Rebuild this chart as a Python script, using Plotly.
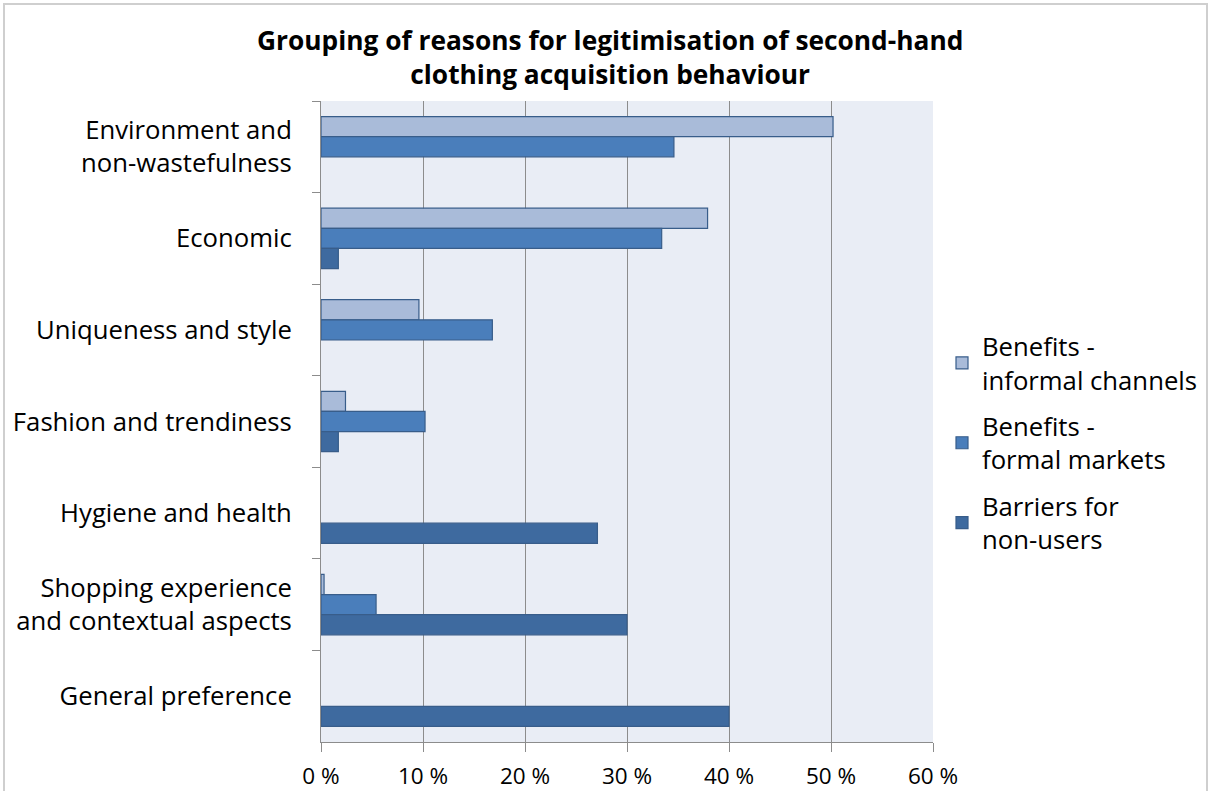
import plotly.graph_objects as go

categories = ["Environment and<br>non-wastefulness", "Economic", "Uniqueness and style",
              "Fashion and trendiness", "Hygiene and health",
              "Shopping experience<br>and contextual aspects", "General preference"]
# None = no bar drawn for that category
informal = [50.2, 37.9, 9.6, 2.4, None, 0.3, None]
formal = [34.6, 33.4, 16.8, 10.2, None, 5.4, None]
barriers = [None, 1.7, None, 1.7, 27.1, 30.0, 40.0]
series_names = ["Benefits -<br>informal channels", "Benefits -<br>formal markets", "Barriers for<br>non-users"]
colors = ["#a9bbd9", "#4a7ebb", "#3e6a9f"]
tick_vals = [0, 10, 20, 30, 40, 50, 60]
tick_text = ["0 %", "10 %", "20 %", "30 %", "40 %", "50 %", "60 %"]
title_text = "<b>Grouping of reasons for legitimisation of second-hand<br>clothing acquisition behaviour</b>"

FONT = "Open Sans"
fig = go.Figure()
for name, vals, col in zip(series_names, [informal, formal, barriers], colors):
    fig.add_trace(go.Bar(
        y=categories, x=vals, name=name, orientation="h",
        marker=dict(color=col, line=dict(color="#385d8a", width=1.2)),
        legendgroup=name,
    ))

W, H = 1210, 791
L, R, T, B = 321, 277, 101, 49
pw, ph = W - L - R, H - T - B

fig.update_layout(
    width=W, height=H,
    margin=dict(l=L, r=R, t=T, b=B, pad=0, autoexpand=False),
    paper_bgcolor="white", plot_bgcolor="#e9edf5",
    barmode="group", bargap=0.34, bargroupgap=0,
    font=dict(family=FONT, size=25.7, color="#000000"),
    legend=dict(x=(942 - L) / pw, y=(H - B - 323) / ph, xanchor="left", yanchor="top",
                font=dict(family=FONT, size=25.7), tracegroupgap=10,
                bgcolor="rgba(0,0,0,0)"),
    showlegend=True,
)
fig.add_annotation(text=title_text, xref="paper", yref="paper",
                   x=(609.5 - L) / pw, y=(H - B - 57) / ph, xanchor="center", yanchor="middle",
                   showarrow=False, font=dict(family=FONT, size=26.3, color="#000000"))
fig.update_xaxes(range=[0, 60], tickvals=tick_vals, ticktext=tick_text,
                 tickfont=dict(family=FONT, size=22.5),
                 showgrid=True, gridcolor="#8c8c8c", gridwidth=1,
                 ticks="outside", ticklen=9, tickcolor="#8c8c8c",
                 showline=True, linecolor="#8c8c8c", linewidth=1,
                 zeroline=False, automargin=False, ticklabelstandoff=5)
fig.update_yaxes(autorange="reversed", showgrid=False, automargin=False,
                 ticks="outside", ticklen=8, tickcolor="#8c8c8c",
                 showline=True, linecolor="#8c8c8c", linewidth=1,
                 ticklabelstandoff=23, tickson="boundaries")
fig.add_shape(type="rect", xref="paper", yref="paper",
              x0=(4 - L) / pw, x1=(W - 3 - L) / pw,
              y0=(H - B - 820) / ph, y1=(H - B - 4) / ph,
              line=dict(color="#cfcfcf", width=2), fillcolor="rgba(0,0,0,0)", layer="below")
fig.write_html("out.html")
